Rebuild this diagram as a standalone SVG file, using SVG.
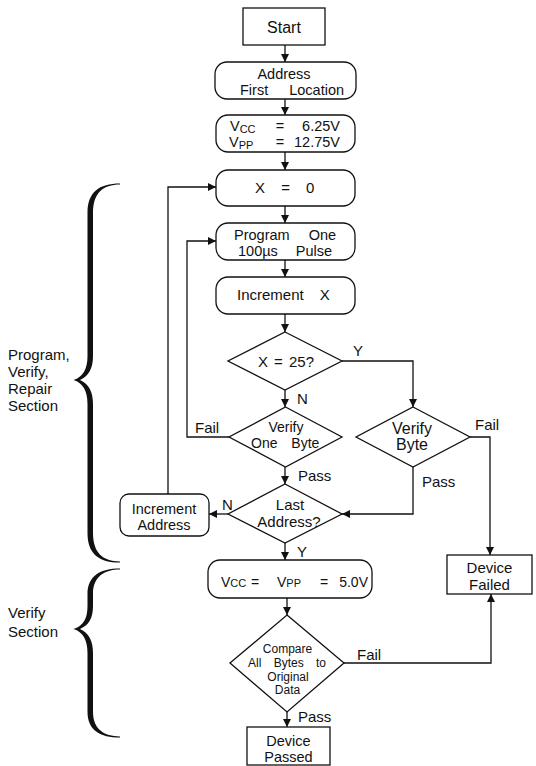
<svg xmlns="http://www.w3.org/2000/svg" width="536" height="766" viewBox="0 0 536 766">
  <defs>
    <marker id="ah" viewBox="0 0 8 8" refX="8" refY="4" markerWidth="8" markerHeight="8" orient="auto" markerUnits="userSpaceOnUse">
      <path d="M0,0 L8,4 L0,8 Z" fill="#111"/>
    </marker>
    <style>
      .box { fill: #fff; stroke: #111; stroke-width: 1.3; }
      .wire { fill: none; stroke: #111; stroke-width: 1.3; marker-end: url(#ah); }
      text { font-family: "Liberation Sans", Arial, sans-serif; font-size: 15px; fill: #111; }
      .c { text-anchor: middle; }
      .e { text-anchor: end; }
      .sub { font-size: 11px; }
      .two { font-size: 14.5px; }
      .small { font-size: 12px; }
      .brace { fill: #111; stroke: none; }
    </style>
  </defs>

  <rect width="536" height="766" fill="#fff"/>

  <!-- section braces and their labels -->
  <g id="brace-program">
    <path class="brace" d="M120,183.4 C99,183.4 87.5,192 87.5,213 L87.5,356 C87.5,369 83,377 73.5,380 C83,383 87.5,391 87.5,404 L87.5,533 C87.5,554 99,562.6 120,562.6 L120,561.4 C103,561.4 93,553 93,533 L93,404 C93,392 89,384 80,380 C89,376 93,368 93,356 L93,213 C93,193 103,184.6 120,184.6 Z"/>
    <text x="8" y="360">Program,</text>
    <text x="8" y="377">Verify,</text>
    <text x="8" y="394">Repair</text>
    <text x="8" y="411">Section</text>
  </g>
  <g id="brace-verify">
    <path class="brace" d="M120,568.4 C100,568.4 87.5,576 87.5,594 L87.5,606 C87.5,619 83,626 73.5,629 C83,632 87.5,640 87.5,653 L87.5,712 C87.5,730 100,737.6 120,737.6 L120,736.4 C104,736.4 93,729 93,712 L93,653 C93,641 89,633 80,629 C89,625 93,618 93,606 L93,594 C93,577 104,569.6 120,569.6 Z"/>
    <text x="8" y="618">Verify</text>
    <text x="8" y="637">Section</text>
  </g>

  <!-- connectors -->
  <g id="connectors">
    <path class="wire" d="M285,45 V62"/>
    <path class="wire" d="M285,99 V115"/>
    <path class="wire" d="M285,152 V170"/>
    <path class="wire" d="M285,206 V223"/>
    <path class="wire" d="M285,260 V277"/>
    <path class="wire" d="M285,314 V332"/>
    <path class="wire" d="M342,361 H413 V407"/>
    <path class="wire" d="M285,390 V407"/>
    <path class="wire" d="M229,437 H187 V241 H216"/>
    <path class="wire" d="M285,467 V484"/>
    <path class="wire" d="M413,467 V514 H342"/>
    <path class="wire" d="M470,437 H490 V555"/>
    <path class="wire" d="M228,514 H209"/>
    <path class="wire" d="M168,494 V187 H216"/>
    <path class="wire" d="M285,543 V560"/>
    <path class="wire" d="M287,598 V615"/>
    <path class="wire" d="M344,663 H491 V594"/>
    <path class="wire" d="M287,712 V727"/>

    <text x="353" y="356">Y</text>
    <text x="297" y="404">N</text>
    <text x="195" y="433">Fail</text>
    <text x="298" y="481">Pass</text>
    <text x="422" y="487">Pass</text>
    <text x="475" y="430">Fail</text>
    <text x="222" y="510">N</text>
    <text x="297" y="557">Y</text>
    <text x="357" y="660">Fail</text>
    <text x="298" y="722">Pass</text>
  </g>

  <!-- nodes -->
  <g id="start">
    <rect class="box" x="243" y="8" width="82" height="37"/>
    <text class="c" x="284" y="33" style="font-size:16px">Start</text>
  </g>

  <g id="address-first">
    <rect class="box" x="215" y="62" width="141" height="37" rx="12"/>
    <text class="c two" x="284" y="79">Address</text>
    <text class="two" x="240" y="95" word-spacing="17">First Location</text>
  </g>

  <g id="set-voltages">
    <rect class="box" x="216" y="115" width="139" height="37" rx="12"/>
    <text class="two" x="230" y="131">V<tspan class="sub" dy="2">CC</tspan></text>
    <text class="c two" x="280" y="131">=</text>
    <text class="e two" x="340" y="131">6.25V</text>
    <text class="two" x="229" y="147">V<tspan class="sub" dy="2">PP</tspan></text>
    <text class="c two" x="280" y="147">=</text>
    <text class="e two" x="340" y="147">12.75V</text>
  </g>

  <g id="x-zero">
    <rect class="box" x="216" y="170" width="139" height="36" rx="12"/>
    <text x="255" y="193" word-spacing="12">X = 0</text>
  </g>

  <g id="program-pulse">
    <rect class="box" x="216" y="223" width="139" height="37" rx="12"/>
    <text class="two" x="234" y="240" word-spacing="15">Program One</text>
    <text class="two" x="238" y="256" word-spacing="14">100µs Pulse</text>
  </g>

  <g id="increment-x">
    <rect class="box" x="216" y="277" width="139" height="37" rx="12"/>
    <text x="237" y="300" word-spacing="12">Increment X</text>
  </g>

  <g id="x-equals-25">
    <polygon class="box" points="285,332 342,361 285,390 228,361"/>
    <text class="c" x="286" y="367" word-spacing="2">X = 25?</text>
  </g>

  <g id="verify-one-byte">
    <polygon class="box" points="285.5,407 342,437 285.5,467 229,437"/>
    <text class="c" x="286" y="432" style="font-size:14px">Verify</text>
    <text x="251" y="448" style="font-size:14px" word-spacing="10">One Byte</text>
  </g>

  <g id="verify-byte">
    <polygon class="box" points="413,407 470,437 413,467 356,437"/>
    <text class="c" x="412" y="434" style="font-size:16px">Verify</text>
    <text class="c" x="412" y="450" style="font-size:16px">Byte</text>
  </g>

  <g id="last-address">
    <polygon class="box" points="285,484 342,514 285,543 228,514"/>
    <text class="c" x="290" y="510">Last</text>
    <text class="c" x="289" y="527">Address?</text>
  </g>

  <g id="increment-address">
    <rect class="box" x="120" y="494" width="89" height="42" rx="9"/>
    <text class="c two" x="164" y="514">Increment</text>
    <text class="c two" x="164" y="530">Address</text>
  </g>

  <g id="verify-voltages">
    <rect class="box" x="208" y="560" width="164" height="38" rx="12"/>
    <text x="221" y="587" style="font-size:14px">V<tspan class="sub">CC</tspan></text>
    <text class="c" x="255" y="587" style="font-size:14px">=</text>
    <text x="277" y="587" style="font-size:14px">V<tspan class="sub">PP</tspan></text>
    <text class="c" x="324" y="587" style="font-size:14px">=</text>
    <text class="e" x="368" y="587" style="font-size:14px">5.0V</text>
  </g>

  <g id="device-failed">
    <rect class="box" x="447" y="555" width="85" height="39"/>
    <text class="c" x="489.5" y="573">Device</text>
    <text class="c" x="489.5" y="590">Failed</text>
  </g>

  <g id="compare-all">
    <polygon class="box" points="287,615 344,663 287,712 230,663"/>
    <text class="c small" x="287.5" y="653">Compare</text>
    <text class="small" x="248" y="667" word-spacing="9">All Bytes to</text>
    <text class="c small" x="288" y="680.5">Original</text>
    <text class="c small" x="287.5" y="694">Data</text>
  </g>

  <g id="device-passed">
    <rect class="box" x="247" y="727" width="83" height="38"/>
    <text class="c two" x="288.5" y="746">Device</text>
    <text class="c two" x="288.5" y="762">Passed</text>
  </g>
</svg>
